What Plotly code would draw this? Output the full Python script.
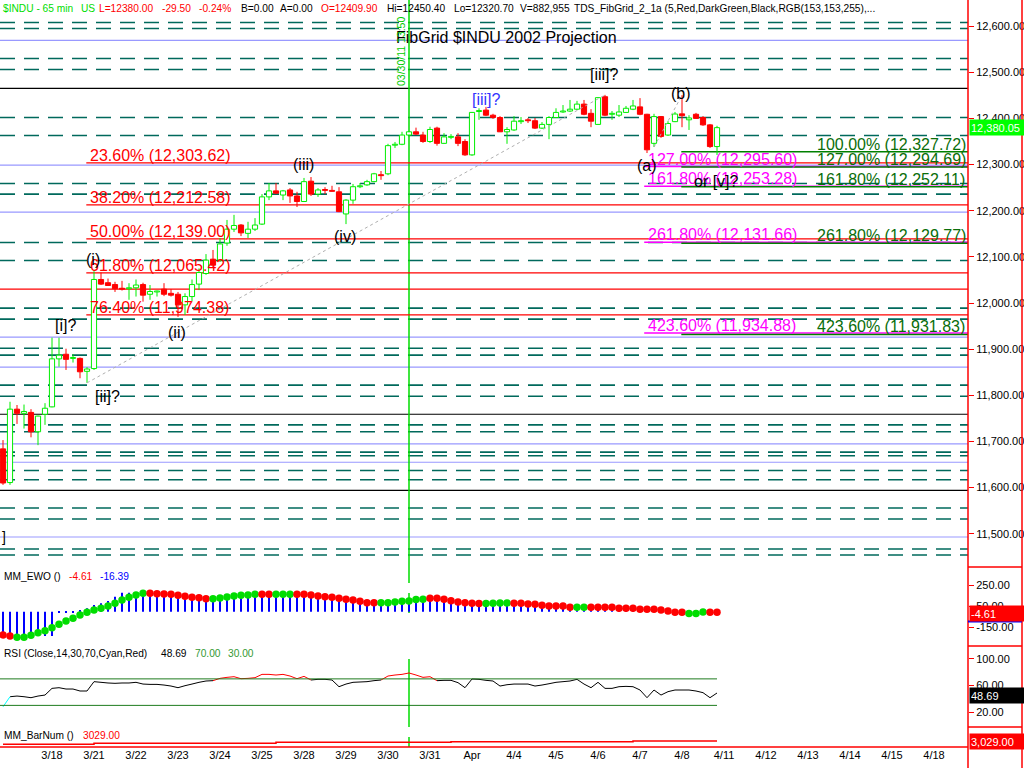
import plotly.graph_objects as go

# ---- data (bar index 0 = first 65 min bar of 3/17/2011, -1 = last bar of 3/16) ----
bars = list(range(-1, 102))

opens = [11684, 11611, 11770, 11761, 11763, 11721, 11759, 11775, 11879, 11889, 11880, 11880, 11852,
         11858, 12051, 12044, 12040, 12032, 12031, 12033, 12040, 12019, 12024, 12030, 12021, 12019,
         11996, 12014, 12041, 12064, 12095, 12093, 12130, 12160, 12169, 12151, 12160, 12171, 12230,
         12243, 12234, 12245, 12232, 12220, 12264, 12236, 12246, 12244, 12241, 12193, 12223, 12252,
         12256, 12263, 12278, 12280, 12342, 12344, 12364, 12371, 12364, 12350, 12379, 12346, 12359,
         12360, 12350, 12321, 12415, 12418, 12407, 12402, 12371, 12375, 12393, 12397, 12395, 12379,
         12387, 12402, 12414, 12416, 12420, 12431, 12411, 12387, 12447, 12409, 12407, 12413, 12420,
         12425, 12409, 12346, 12404, 12364, 12393, 12409.9, 12397, 12409, 12402, 12386, 12339]
highs = [11703, 11786, 11779, 11780, 11770, 11756, 11783, 11925, 11925, 11901, 11889, 11882, 11861,
         12069, 12066, 12053, 12046, 12048, 12043, 12051, 12044, 12039, 12027, 12043, 12030, 12024,
         12021, 12051, 12075, 12106, 12115, 12141, 12180, 12191, 12171, 12176, 12184, 12236, 12260,
         12260, 12245, 12249, 12241, 12271, 12273, 12249, 12251, 12254, 12251, 12225, 12258, 12260,
         12267, 12282, 12286, 12345, 12349, 12371, 12373, 12380, 12371, 12382, 12382, 12368, 12366,
         12368, 12355, 12414, 12422, 12425, 12410, 12405, 12381, 12405, 12403, 12401, 12401, 12392,
         12405, 12422, 12429, 12440, 12438, 12440, 12420, 12446, 12451, 12416, 12429, 12427, 12440,
         12444, 12410, 12410, 12405, 12394, 12414, 12450.4, 12407, 12412, 12405, 12388, 12384]
lows = [11606, 11606, 11738, 11728, 11709, 11692, 11736, 11774, 11862, 11855, 11871, 11837, 11827,
        11855, 12039, 12037, 12024, 12027, 12007, 12014, 12003, 12007, 12014, 12015, 12014, 11970,
        11974, 12003, 12028, 12061, 12076, 12089, 12124, 12154, 12145, 12141, 12156, 12169, 12223,
        12236, 12223, 12217, 12208, 12219, 12232, 12230, 12236, 12241, 12197, 12171, 12215, 12249,
        12254, 12262, 12267, 12277, 12336, 12342, 12362, 12364, 12347, 12347, 12341, 12345, 12355,
        12340, 12319, 12319, 12397, 12405, 12399, 12371, 12345, 12373, 12388, 12390, 12377, 12377,
        12355, 12401, 12412, 12414, 12418, 12407, 12381, 12386, 12405, 12397, 12403, 12412, 12418,
        12407, 12325, 12338, 12358, 12362, 12392, 12381, 12375, 12399, 12384, 12336, 12320.7]
closes = [11610, 11770, 11761, 11765, 11721, 11755, 11772, 11879, 11887, 11878, 11882, 11851, 11857,
          12051, 12041, 12038, 12031, 12030, 12033, 12039, 12017, 12025, 12026, 12019, 12017, 11996,
          12014, 12040, 12066, 12093, 12082, 12128, 12160, 12168, 12152, 12160, 12169, 12230, 12243,
          12238, 12243, 12232, 12220, 12263, 12236, 12245, 12244, 12242, 12198, 12223, 12252, 12254,
          12263, 12280, 12276, 12341, 12344, 12364, 12371, 12366, 12350, 12376, 12346, 12360, 12361,
          12346, 12321, 12413, 12417, 12407, 12402, 12371, 12376, 12394, 12395, 12395, 12379, 12387,
          12402, 12413, 12416, 12420, 12431, 12409, 12394, 12445, 12407, 12411, 12414, 12422, 12427,
          12409, 12332, 12404, 12361, 12389, 12409.5, 12406, 12401, 12400, 12386, 12339, 12380]

ewo_dots = [-222, -231, -244, -244, -225, -200, -181, -152, -120, -89, -63, -31, -6, 16, 32, 54, 80,
            111, 137, 159, 175, 175, 172, 169, 165, 156, 146, 137, 134, 124, 124, 131, 140, 150, 156,
            159, 165, 165, 165, 165, 165, 165, 165, 165, 159, 150, 143, 137, 127, 118, 111, 99, 86,
            86, 86, 86, 92, 99, 102, 115, 118, 127, 127, 118, 105, 92, 86, 80, 77, 77, 80, 83, 83,
            80, 80, 73, 70, 61, 54, 54, 54, 42, 42, 42, 42, 42, 42, 42, 32, 32, 32, 23, 23, 23, 16,
            7, -5, -5, -16, -16, -3, -5, -4.61]
ewo_dot_col = "rr" + "g" * 19 + "r" * 9 + "g" * 7 + "rr" + "ggg" + "r" * 12 + "g" * 7 + "r" * 8 + \
              "gggg" + "r" * 9 + "gg" + "r" * 14 + "ggg" + "rr"
# histogram of the first bars (afterwards it sits under the dots)
ewo_hist_early = [-231, -231, -231, -231, -231, -231, -231, -231, -12, -8, -10, 16, 32, 64, 80, 102,
                  143, 181, 181, 181]

rsi = [27.8, 43.1, 44.1, 43.1, 41.6, 44.1, 45.6, 55.7, 56.7, 54.7, 54.7, 51.7, 51.7, 65.8, 64.8,
       63.8, 63.3, 63.8, 63.8, 64.8, 62.2, 61.7, 61.7, 60.7, 59.2, 56.7, 59.7, 62.2, 64.8, 66.8,
       67.3, 70.8, 72.3, 73.3, 70.3, 70.8, 71.8, 76.8, 76.8, 75.8, 76.8, 74.3, 70.3, 73.8, 68.3,
       69.3, 69.3, 68.3, 58.2, 62.2, 64.8, 65.3, 65.8, 67.3, 68.3, 74.3, 75.8, 76.8, 78.9, 75.8,
       72.3, 73.3, 67.3, 67.8, 67.8, 64.3, 56.7, 69.8, 69.3, 67.8, 66.8, 59.2, 61.2, 62.2, 62.2,
       62.2, 59.2, 60.7, 62.7, 64.8, 65.8, 66.8, 69.3, 62.2, 56.7, 64.8, 55.7, 55.7, 58.2, 58.7,
       58.2, 53.2, 41.6, 53.2, 45.6, 50.7, 53.2, 53.2, 53.2, 51.7, 49.2, 41.6, 48.69]

barnum_x = [-1, 12, 38, 63, 89, 101]
barnum_y = [2930, 2960, 2990, 3006, 3029, 3029]

day_ticks = list(range(6, 133, 6))
day_labels = ["3/18", "3/21", "3/22", "3/23", "3/24", "3/25", "3/28", "3/29", "3/30", "3/31", "Apr",
              "4/4", "4/5", "4/6", "4/7", "4/8", "4/11", "4/12", "4/13", "4/14", "4/15", "4/18"]
price_ticks = [11500, 11600, 11700, 11800, 11900, 12000, 12100, 12200, 12300, 12400, 12500, 12600]

# FibGrid levels
grid_dashed = [12608, 12595, 12530, 12506, 12402, 12363, 12259, 12236, 12131, 12092, 11989, 11965,
               11902, 11887, 11822, 11798, 11736, 11721, 11677, 11669, 11637, 11617, 11556, 11532,
               11467, 11454]
grid_blue = [12569, 12299, 12197, 11926, 11861, 11695, 11655, 11493]
grid_black = [12465, 11759, 11594]
grid_red = [12030]

retr_pct = [23.6, 38.2, 50.0, 61.8, 76.4]
retr_price = [12303.62, 12212.58, 12139.00, 12065.42, 11974.38]
ext_m_pct = [127.0, 161.8, 261.8, 423.6]
ext_m_price = [12295.60, 12253.28, 12131.66, 11934.88]
ext_g_pct = [100.0, 127.0, 161.8, 261.8, 423.6]
ext_g_price = [12327.72, 12294.69, 12252.11, 12129.77, 11931.83]

# dotted trend lines: [ii] low -> [iii]? high, (a) -> (b)
trend1_x, trend1_y = [11, 85], [11827, 12450.8]
trend2_x, trend2_y = [92, 96], [12338, 12450.4]

wave_labels = [("[i]?", 7.86, 11952, "black"), ("[ii]?", 13.96, 11797, "black"),
               ("(i)", 11.86, 12095, "black"), ("(ii)", 23.8, 11936, "black"),
               ("(iii)", 41.86, 12301, "black"), ("(iv)", 47.86, 12145, "black"),
               ("[iii]?", 68.0, 12440, "#3333ff"), ("[iii]?", 84.86, 12496, "black"),
               ("(b)", 95.9, 12453, "black"), ("(a)", 90.96, 12297, "black"),
               ("or [v]?", 100.86, 12264, "black")]

# ---- helpers ----
PLOT_W, PLOT_H = 968, 747
FONT = "Liberation Sans, Arial, sans-serif"
GREEN = "#00ee00"
TEAL = "#00695c"


def pxx(px):
    return px / PLOT_W


def pxy(py):
    return 1 - py / PLOT_H


fig = go.Figure()

# candle bodies and wicks
up = [i for i in range(len(bars)) if closes[i] >= opens[i]]
dn = [i for i in range(len(bars)) if closes[i] < opens[i]]
for idx, fill, edge in ((up, "white", GREEN), (dn, "red", "red")):
    base = [min(opens[i], closes[i]) for i in idx]
    hgt = [max(abs(closes[i] - opens[i]), 2) for i in idx]
    fig.add_trace(go.Bar(x=[bars[i] for i in idx], y=hgt, base=base, width=0.74,
                         marker=dict(color=fill, line=dict(color=edge, width=1)),
                         xaxis="x", yaxis="y", hoverinfo="skip"))
    wx, wy = [], []
    for i in idx:
        top, bot = max(opens[i], closes[i]), min(opens[i], closes[i])
        wx += [bars[i], bars[i], None, bars[i], bars[i], None]
        wy += [highs[i], top, None, bot, lows[i], None]
    fig.add_trace(go.Scatter(x=wx, y=wy, mode="lines", line=dict(color=edge, width=1),
                             xaxis="x", yaxis="y", hoverinfo="skip"))

fig.add_trace(go.Scatter(x=trend1_x, y=trend1_y, mode="lines",
                         line=dict(color="#b0b0b0", width=1, dash="3px,3px"), hoverinfo="skip"))
fig.add_trace(go.Scatter(x=trend2_x, y=trend2_y, mode="lines",
                         line=dict(color="#b0b0b0", width=1, dash="3px,3px"), hoverinfo="skip"))

# EWO
ewo_hist = ewo_hist_early + ewo_dots[len(ewo_hist_early):]
fig.add_trace(go.Bar(x=bars, y=ewo_hist, width=0.2, marker=dict(color="#0000ff", line=dict(width=0)),
                     xaxis="x", yaxis="y2", hoverinfo="skip"))
fig.add_trace(go.Scatter(x=bars, y=ewo_dots, mode="markers", xaxis="x", yaxis="y2",
                         marker=dict(size=7.5, color=["#ff0000" if c == "r" else "#00dd00" for c in ewo_dot_col],
                                     line=dict(width=0)), hoverinfo="skip"))

# RSI, red above 70, cyan below 30
seg = {"black": ([], []), "red": ([], []), "#00ffff": ([], [])}
for k in range(len(bars) - 1):
    a, b = rsi[k], rsi[k + 1]
    col = "red" if max(a, b) > 70 else ("#00ffff" if min(a, b) < 30 else "black")
    seg[col][0].extend([bars[k], bars[k + 1], None])
    seg[col][1].extend([a, b, None])
for col, (sx, sy) in seg.items():
    fig.add_trace(go.Scatter(x=sx, y=sy, mode="lines", line=dict(color=col, width=1),
                             xaxis="x", yaxis="y3", hoverinfo="skip"))
for lvl in (70, 30):
    fig.add_trace(go.Scatter(x=[-1.43, 101], y=[lvl, lvl], mode="lines",
                             line=dict(color="#1e7b1e", width=1), xaxis="x", yaxis="y3", hoverinfo="skip"))

# bar number
fig.add_trace(go.Scatter(x=barnum_x, y=barnum_y, mode="lines", line=dict(color="red", width=1.5, shape="hv"),
                         xaxis="x", yaxis="y4", hoverinfo="skip"))

# ---- shapes ----
shapes = []


def hline(y, color, width=1, dash="solid", x0=0, xref="paper", layer="below"):
    shapes.append(dict(type="line", xref=xref, yref="y", x0=x0, x1=1 if xref == "paper" else 136.86,
                       y0=y, y1=y, line=dict(color=color, width=width, dash=dash), layer=layer))


for p in grid_dashed:
    hline(p, TEAL, 1.6, "15px,9px")
for p in grid_blue:
    hline(p, "#9999ff", 1.2)
for p in grid_black:
    hline(p, "black", 1.2)
for p in grid_red:
    hline(p, "red", 1.2)
for p in retr_price:
    hline(p, "red", 1.2, x0=10.9, xref="x")
for p in ext_m_price:
    hline(p, "#ff00ff", 1.5, x0=90.6, xref="x")
for p in ext_g_price:
    hline(p, "#008000", 1.5, x0=95.9, xref="x")

# vertical green marker line (03/30 13:50 bar)
for y0, y1 in ((0, 567), (567, 583), (593, 613), (659, 727), (737, 747)):
    shapes.append(dict(type="line", xref="x", yref="paper", x0=57, x1=57, y0=pxy(y0), y1=pxy(y1),
                       line=dict(color="#00dd00", width=1.5), layer="below"))

# frame: right price scale line, bottom axis, pane separators in the scale area
shapes.append(dict(type="line", xref="paper", yref="paper", x0=1, x1=1, y0=1, y1=pxy(768),
                   line=dict(color="red", width=1.5)))
shapes.append(dict(type="line", xref="paper", yref="paper", x0=pxx(1022), x1=pxx(1022), y0=1, y1=pxy(768),
                   line=dict(color="red", width=1.5)))
shapes.append(dict(type="line", xref="paper", yref="paper", x0=0, x1=1, y0=0, y1=0,
                   line=dict(color="red", width=1.5)))
for py in (567, 646, 727):
    shapes.append(dict(type="line", xref="paper", yref="paper", x0=1, x1=pxx(1022), y0=pxy(py), y1=pxy(py),
                       line=dict(color="red", width=1.5)))
shapes.append(dict(type="line", xref="paper", yref="paper", x0=1, x1=pxx(1022), y0=pxy(621.5), y1=pxy(621.5),
                   line=dict(color="#0000ff", width=2)))

# ---- annotations ----
ann = []


def text(x, y, s, color="black", size=16, xref="x", yref="y", xanchor="center", yanchor="middle", **kw):
    ann.append(dict(x=x, y=y, xref=xref, yref=yref, text=s, showarrow=False, xanchor=xanchor,
                    yanchor=yanchor, font=dict(family=FONT, size=size, color=color), **kw))


for pct, p in zip(retr_pct, retr_price):
    text(11.1, p, f"{pct:.2f}% ({p:,.2f})", "red", xanchor="left", yanchor="bottom", yshift=-3)
for pct, p in zip(ext_m_pct, ext_m_price):
    text(90.9, p, f"{pct:.2f}% ({p:,.2f})", "#ff00ff", xanchor="left", yanchor="bottom", yshift=-3)
for pct, p in zip(ext_g_pct, ext_g_price):
    text(115.0, p, f"{pct:.2f}% ({p:,.2f})", "#0a6e0a", xanchor="left", yanchor="bottom", yshift=-3)
for s, bx, p, col in wave_labels:
    text(bx, p, s, col)

text(pxx(507), pxy(38), "FibGrid $INDU 2002 Projection", size=16, xref="paper", yref="paper")
text(57, pxy(52), "03/30/11 13:50", "#00cc00", size=10.5, yref="paper", textangle=-90, xshift=-8)
text(pxx(0), pxy(537), "]", size=14, xref="paper", yref="paper", xanchor="left")

header = [(1, "$INDU - 65 min", "#00dd00"), (79, "US", "#00dd00"), (97, "L=12380.00", "red"),
          (160, "-29.50", "red"), (197, "-0.24%", "red"), (239, "B=0.00", "black"),
          (278, "A=0.00", "black"), (319, "O=12409.90", "red"), (385, "Hi=12450.40", "black"),
          (452, "Lo=12320.70", "black"), (518, "V=882,955", "black"),
          (572, "TDS_FibGrid_2_1a (5,Red,DarkGreen,Black,RGB(153,153,255),...", "black")]
for hx, s, col in header:
    text(pxx(hx), pxy(8), s, col, size=10.2, xref="paper", yref="paper", xanchor="left")

panel_labels = [(2, 576, "MM_EWO ()", "black"), (67, 576, "-4.61", "red"), (98, 576, "-16.39", "#0000ff"),
                (2, 653, "RSI (Close,14,30,70,Cyan,Red)", "black"), (159, 653, "48.69", "black"),
                (193, 653, "70.00", "#339933"), (226, 653, "30.00", "#339933"),
                (2, 735, "MM_BarNum ()", "black"), (81, 735, "3029.00", "red")]
for lx, ly, s, col in panel_labels:
    text(pxx(lx), pxy(ly), s, col, size=10.2, xref="paper", yref="paper", xanchor="left")

# last value boxes on the scale
for yv, yref, s, bg, shift in ((12380.05, "y", "12,380.05", "#00ff00", 0), (-4.61, "y2", "-4.61", "red", -1.5),
                               (48.69, "y3", "48.69", "black", -2), (3029, "y4", "3,029.00", "red", -1)):
    ann.append(dict(x=1, y=yv, xref="paper", yref=yref, text=s, showarrow=False, xanchor="left",
                    yanchor="middle", bgcolor=bg, width=52, height=13, align="left", borderpad=1,
                    yshift=shift, xshift=1, font=dict(family=FONT, size=11, color="white")))

axis_font = dict(family=FONT, size=11, color="black")
fig.update_layout(
    width=1024, height=768,
    margin=dict(l=0, r=56, t=0, b=21),
    paper_bgcolor="white", plot_bgcolor="white",
    showlegend=False, barmode="overlay", hovermode=False,
    xaxis=dict(range=[-1.4286, 136.857], tickvals=day_ticks, ticktext=day_labels, showgrid=False,
               zeroline=False, showline=False, ticks="", tickfont=axis_font, anchor="y4", fixedrange=True),
    yaxis=dict(domain=[pxy(567), 1], range=[11428, 12656.6], side="right", anchor="x",
               tickvals=price_ticks, tickformat=",.2f", ticks="outside", ticklen=5, tickcolor="red",
               showgrid=False, zeroline=False, showline=False, tickfont=axis_font),
    yaxis2=dict(domain=[pxy(646), pxy(567)], range=[-326.7, 425.7], side="right", anchor="x",
                tickvals=[250, 50, -150], ticktext=["250.00", "50.00", "-150.00"], ticks="outside",
                ticklen=5, tickcolor="red", showgrid=False, zeroline=False, showline=False, tickfont=axis_font),
    yaxis3=dict(domain=[pxy(727), pxy(646)], range=[-2.6, 119.6], side="right", anchor="x",
                tickvals=[100, 60, 20], ticktext=["100.00", "60.00", "20.00"], ticks="outside",
                ticklen=5, tickcolor="red", showgrid=False, zeroline=False, showline=False, tickfont=axis_font),
    yaxis4=dict(domain=[0, pxy(727)], range=[2841, 3461], side="right", anchor="x",
                showticklabels=False, ticks="", showgrid=False, zeroline=False, showline=False),
    shapes=shapes,
    annotations=ann,
)

fig.write_html("out.html", config={"displayModeBar": False},
               post_script="document.body.style.margin='0';document.body.style.overflow='hidden';")
